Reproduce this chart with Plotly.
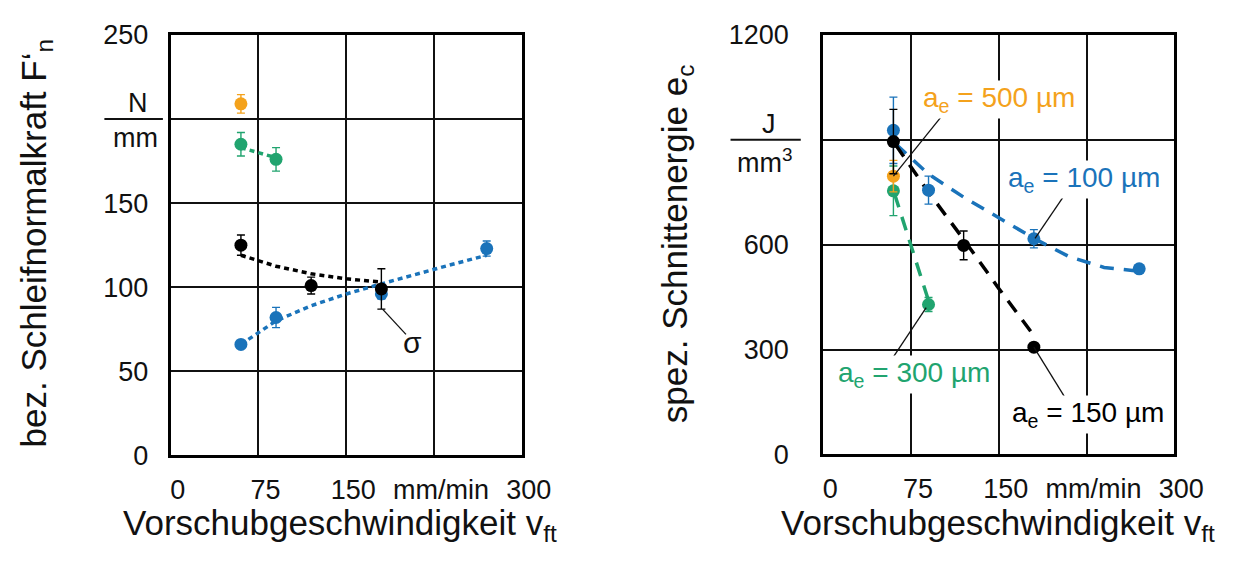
import plotly.graph_objects as go

# ---------------- data: left panel (bez. Schleifnormalkraft F'n in N/mm) ----------------
vft_blue_L = [60, 90, 180, 270]
fn_blue = [66, 82, 96, 123]
fn_blue_err = [0, 6, 3, 4.5]

vft_black_L = [60, 120, 180]
fn_black = [125, 101, 99]
fn_black_err = [6, 5, 12]

vft_green_L = [60, 90]
fn_green = [185, 176]
fn_green_err = [7, 7]

vft_orange_L = [60]
fn_orange = [209]
fn_orange_err = [5.5]

fit_blue_L_x = [60, 90, 120, 150, 180, 210, 240, 270]
fit_blue_L_y = [66, 80, 89, 96, 102, 108, 113.5, 119]
fit_black_L_x = [60, 90, 120, 150, 180]
fit_black_L_y = [119, 112.5, 108, 105, 103]
fit_green_L_x = [60, 90]
fit_green_L_y = [183, 177]

# ---------------- data: right panel (spez. Schnittenergie ec in J/mm3) ----------------
vft_blue_R = [60, 90, 180, 270]
ec_blue = [927, 756, 617, 531]
ec_blue_err = [95, 40, 26, 10]

vft_black_R = [60, 120, 180]
ec_black = [895, 598, 307]
ec_black_err = [92, 41, 0]

vft_green_R = [60, 90]
ec_green = [754, 429]
ec_green_err = [71, 20]

vft_orange_R = [60]
ec_orange = [796]
ec_orange_err = [45]

fit_blue_R_x = [62, 90, 120, 150, 180, 210, 240, 268]
fit_blue_R_y = [888, 802, 736, 676, 618, 566, 535, 525]
fit_black_R_x = [62, 90, 120, 150, 180]
fit_black_R_y = [885, 750, 615, 475, 340]
fit_green_R_x = [61, 75, 90]
fit_green_R_y = [745, 600, 440]

# tick labels
x_tickvals = [0, 75, 150, 225, 300]
x_ticktext = ["0", "75", "150", "mm/min", "300"]
yL_tickvals = [0, 50, 100, 150, 200, 250]
yL_ticktext = ["0", "50", "100", "150", "", "250"]
yR_tickvals = [0, 300, 600, 900, 1200]
yR_ticktext = ["0", "300", "600", "", "1200"]

BLUE = "#1a73ba"
GREEN = "#21a46f"
ORANGE = "#f4a21c"
BLACK = "#000000"
FONT = "Liberation Sans, Arial, sans-serif"
W, H = 1256, 568

fig = go.Figure()


def fit(x, y, color, xa, ya, dash, width):
    fig.add_trace(go.Scatter(x=x, y=y, mode="lines", xaxis=xa, yaxis=ya,
                             line=dict(color=color, width=width, dash=dash),
                             hoverinfo="skip", showlegend=False))


def pts(x, y, err, color, xa, ya):
    fig.add_trace(go.Scatter(x=x, y=y, mode="markers", xaxis=xa, yaxis=ya,
                             marker=dict(color=color, size=13),
                             error_y=dict(type="data", array=err, visible=True,
                                          color=color, thickness=1.4, width=4),
                             showlegend=False))


# left panel
dotL = "5px,4px"
fit(fit_blue_L_x, fit_blue_L_y, BLUE, "x", "y", dotL, 3.5)
fit(fit_black_L_x, fit_black_L_y, BLACK, "x", "y", dotL, 3.5)
fit(fit_green_L_x, fit_green_L_y, GREEN, "x", "y", dotL, 3.5)
pts(vft_blue_L, fn_blue, fn_blue_err, BLUE, "x", "y")
pts(vft_green_L, fn_green, fn_green_err, GREEN, "x", "y")
pts(vft_orange_L, fn_orange, fn_orange_err, ORANGE, "x", "y")
pts(vft_black_L, fn_black, fn_black_err, BLACK, "x", "y")

# right panel
dashR = "14px,10px"
fit(fit_blue_R_x, fit_blue_R_y, BLUE, "x2", "y2", dashR, 3.5)
fit(fit_black_R_x, fit_black_R_y, BLACK, "x2", "y2", dashR, 3.5)
fit(fit_green_R_x, fit_green_R_y, GREEN, "x2", "y2", dashR, 3.5)
pts(vft_blue_R, ec_blue, ec_blue_err, BLUE, "x2", "y2")
pts(vft_green_R, ec_green, ec_green_err, GREEN, "x2", "y2")
pts(vft_orange_R, ec_orange, ec_orange_err, ORANGE, "x2", "y2")
pts(vft_black_R, ec_black, ec_black_err, BLACK, "x2", "y2")

axis_common = dict(showgrid=True, gridcolor="#111111", gridwidth=2,
                   showline=True, linecolor="#000000", linewidth=3, mirror=True,
                   zeroline=False, ticks="", tickfont=dict(family=FONT, size=27, color="#111111"),
                   fixedrange=True)

fig.update_layout(
    width=W, height=H,
    margin=dict(l=0, r=0, t=0, b=0),
    paper_bgcolor="white", plot_bgcolor="white",
    showlegend=False,
    font=dict(family=FONT, color="#111111"),
    xaxis=dict(domain=[174 / W, 534 / W], range=[0, 300], tickvals=x_tickvals, ticktext=x_ticktext,
               anchor="y", ticklabelstandoff=8, ticklabelshift=7, **axis_common),
    yaxis=dict(domain=[1 - 465 / H, 1 - 21 / H], range=[0, 250], tickvals=yL_tickvals, ticktext=yL_ticktext,
               anchor="x", ticklabelstandoff=14, **axis_common),
    xaxis2=dict(domain=[843 / W, 1203 / W], range=[0, 300], tickvals=x_tickvals, ticktext=x_ticktext,
                anchor="y2", ticklabelstandoff=8, ticklabelshift=7, **axis_common),
    yaxis2=dict(domain=[1 - 464 / H, 1 - 21 / H], range=[0, 1200], tickvals=yR_tickvals, ticktext=yR_ticktext,
                anchor="x2", ticklabelstandoff=26, **axis_common),
)

ann = []
shapes = []

# axis titles
ann.append(dict(text="bez. Schleifnormalkraft F‘<sub>n</sub>", x=36 / W, y=1 - 241 / H, xref="paper", yref="paper",
                textangle=-90, showarrow=False, xanchor="center", yanchor="middle",
                font=dict(family=FONT, size=35, color="#111111")))
ann.append(dict(text="spez. Schnittenergie e<sub>c</sub>", x=693 / W, y=1 - 241 / H, xref="paper", yref="paper",
                textangle=-90, showarrow=False, xanchor="center", yanchor="middle",
                font=dict(family=FONT, size=35, color="#111111")))
for cx in (348, 1022):
    ann.append(dict(text="Vorschubgeschwindigkeit v<sub>ft</sub>", x=cx / W, y=1 - 538 / H, xref="paper", yref="paper",
                    showarrow=False, xanchor="center", yanchor="middle",
                    font=dict(family=FONT, size=35, color="#111111")))

# unit fractions
ann.append(dict(text="N", x=140 / W, y=200, xref="paper", yref="y", showarrow=False, xanchor="center",
                yanchor="bottom", borderpad=0, yshift=0, font=dict(family=FONT, size=27, color="#111111")))
ann.append(dict(text="mm", x=138 / W, y=200, xref="paper", yref="y", showarrow=False, xanchor="center",
                yanchor="top", borderpad=0, yshift=-3, font=dict(family=FONT, size=27, color="#111111")))
shapes.append(dict(type="line", xref="paper", yref="y", x0=106 / W, x1=166 / W, y0=200, y1=200,
                   line=dict(color="#111111", width=2)))
ann.append(dict(text="J", x=787 / W, y=900, xref="paper", yref="y2", showarrow=False, xanchor="center",
                yanchor="bottom", borderpad=0, yshift=0, font=dict(family=FONT, size=27, color="#111111")))
ann.append(dict(text="mm<sup>3</sup>", x=783 / W, y=900, xref="paper", yref="y2", showarrow=False,
                xanchor="center", yanchor="top", borderpad=0, yshift=-3,
                font=dict(family=FONT, size=27, color="#111111")))
shapes.append(dict(type="line", xref="paper", yref="y2", x0=748 / W, x1=820 / W, y0=900, y1=900,
                   line=dict(color="#111111", width=2)))

# sigma label (left)
shapes.append(dict(type="line", xref="x", yref="y", x0=181, y0=87, x1=201, y1=72,
                   line=dict(color="#111111", width=1.3)))
ann.append(dict(text="σ", x=207, y=67, xref="x", yref="y", showarrow=False,
                font=dict(family=FONT, size=30, color="#111111")))

# right labels with leader lines
labels = [
    ("a<sub>e</sub> = 500 µm", ORANGE, 150, 1016, (60, 796), (103, 975)),
    ("a<sub>e</sub> = 100 µm", BLUE, 222.5, 786, (181, 618), (207, 746)),
    ("a<sub>e</sub> = 300 µm", GREEN, 78, 230, (88, 420), (56, 259)),
    ("a<sub>e</sub> = 150 µm", BLACK, 226, 114, (180, 307), (206, 166)),
]
for txt, col, tx, ty, p0, p1 in labels:
    shapes.append(dict(type="line", xref="x2", yref="y2", x0=p0[0], y0=p0[1], x1=p1[0], y1=p1[1],
                       line=dict(color="#111111", width=1.3)))
    ann.append(dict(text=txt, x=tx, y=ty, xref="x2", yref="y2", showarrow=False, bgcolor="white",
                    borderpad=1, font=dict(family=FONT, size=28, color=col)))

fig.update_layout(annotations=ann, shapes=shapes)
fig.write_html("out.html")
